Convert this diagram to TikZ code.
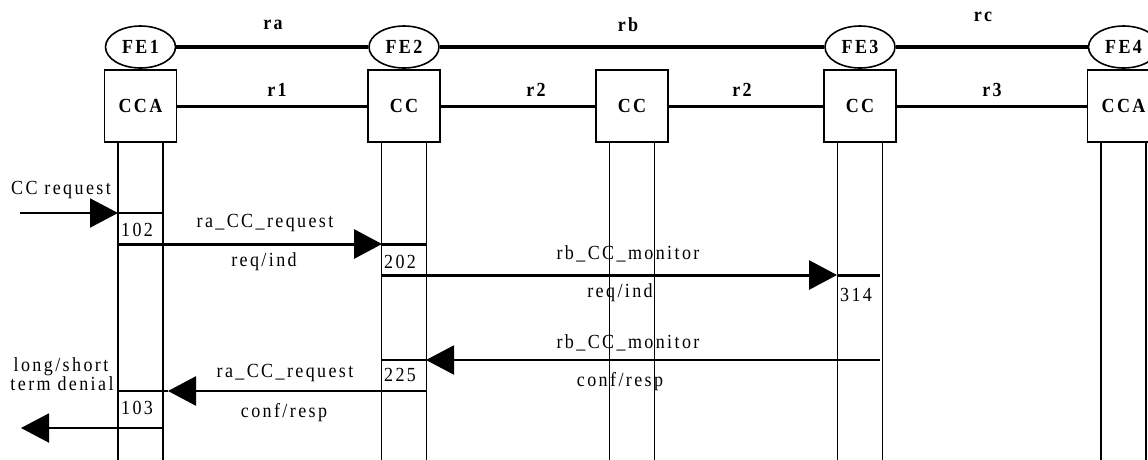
\documentclass[tikz,border=0pt]{standalone}
\usepackage{fontspec}
\setmainfont{Liberation Serif}[LetterSpace=12,FakeStretch=0.9]
\usetikzlibrary{arrows.meta,shapes.geometric}
\begin{document}
\begin{tikzpicture}[x=1pt,y=-1pt,
  txt/.style={font=\fontsize{20}{22}\selectfont, inner sep=0pt},
  btxt/.style={font=\fontsize{20}{22}\selectfont\bfseries, inner sep=0pt},
  box/.style={draw, line width=1.8pt, minimum width=72pt, minimum height=72pt, inner sep=0pt, font=\fontsize{20}{22}\selectfont\bfseries},
  fe/.style={draw, ellipse, line width=1.6pt, minimum width=70pt, minimum height=42pt, inner sep=0pt, font=\fontsize{20}{22}\selectfont\bfseries},
  link/.style={line width=3.5pt},
  rlink/.style={line width=3pt},
  life/.style={line width=1.6pt},
  cell/.style={line width=2pt},
  msg/.style={line width=3pt, -{Triangle[length=28pt,width=29pt]}},
  tmsg/.style={line width=2pt, -{Triangle[length=28pt,width=29pt]}},
]
\useasboundingbox (0,0) rectangle (1148,459);
\clip (0,0) rectangle (1148,459);

% functional entities
\node[fe] (fe1) at (140.5,47) {FE1};
\node[fe] (fe2) at (404,47) {FE2};
\node[fe] (fe3) at (860,47) {FE3};
\node[fe] (fe4) at (1123.5,47) {FE4};
\draw[link] (fe1.east) -- (fe2.west);
\draw[link] (fe2.east) -- (fe3.west);
\draw[link] (fe3.east) -- (fe4.west);
\node[btxt] (ra) at (273,25) {ra};
\node[btxt] (rb) at (628,25) {rb};
\node[btxt] (rc) at (983,17) {rc};

% boxes
\node[box] (b1) at (140.5,106) {\raisebox{-4pt}{CCA}};
\node[box] (b2) at (404,106) {\raisebox{-4pt}{CC}};
\node[box] (b3) at (632,106) {\raisebox{-5pt}{CC}};
\node[box] (b4) at (860,106) {\raisebox{-2pt}{CC}};
\node[box] (b5) at (1123.5,106) {\raisebox{-6pt}{CCA}};
\draw[rlink] (b1.east) -- (b2.west);
\draw[rlink] (b2.east) -- (b3.west);
\draw[rlink] (b3.east) -- (b4.west);
\draw[rlink] (b4.east) -- (b5.west);
\node[btxt] (r1) at (277,90) {r1};
\node[btxt] (r2a) at (536,90) {r2};
\node[btxt] (r2b) at (742,90) {r2};
\node[btxt] (r3) at (992,90) {r3};

% lifelines
\foreach \b in {b1,b2,b3,b4,b5}{
  \draw[life] ([xshift=-22.5pt]\b.south) -- ++(0,320);
  \draw[life] ([xshift=22.5pt]\b.south) -- ++(0,320);
}

% coordinates
\coordinate (in0) at (20,213);
\coordinate (a102) at (118,213);
\coordinate (b102) at (163,213);
\coordinate (m1s) at (118,244);
\coordinate (m1e) at (382,244);
\coordinate (m1c) at (426,244);
\coordinate (m2s) at (382,275);
\coordinate (m2e) at (837,275);
\coordinate (m2c) at (880,275);
\coordinate (m3s) at (880,360);
\coordinate (m3e) at (426,360);
\coordinate (m3c) at (382,360);
\coordinate (m4s) at (426,391);
\coordinate (m4e) at (168,391);
\coordinate (m4c) at (117,391);
\coordinate (m5s) at (163,428);
\coordinate (m5e) at (21,428);

% messages
\draw[tmsg] (in0) -- (a102);
\draw[cell] (a102) -- (b102);
\node[txt] (t0) at (61,190) {CC request};
\node[txt, anchor=west] (n102) at (121,230) {102};

\draw[msg] (m1s) -- (m1e);
\draw[msg, -] (m1e) -- (m1c);
\node[txt] (t1a) at (265,223) {ra\_CC\_request};
\node[txt] (t1b) at (264,262) {req/ind};
\node[txt, anchor=west] (n202) at (384,262) {202};

\draw[msg] (m2s) -- (m2e);
\draw[msg, -] (m2e) -- (m2c);
\node[txt] (t2a) at (628,254) {rb\_CC\_monitor};
\node[txt] (t2b) at (620,293) {req/ind};
\node[txt, anchor=west] (n314) at (840,295) {314};

\draw[tmsg] (m3s) -- (m3e);
\draw[cell] (m3e) -- (m3c);
\node[txt] (t3a) at (628,343) {rb\_CC\_monitor};
\node[txt] (t3b) at (620,382) {conf/resp};
\node[txt, anchor=west] (n225) at (384,375) {225};

\draw[msg, line width=2.7pt] (m4s) -- (m4e);
\draw[line width=2.7pt] (m4e) -- (m4c);
\node[txt] (t4a) at (285,373) {ra\_CC\_request};
\node[txt] (t4b) at (284,413) {conf/resp};
\node[txt, anchor=west] (n103) at (121,408) {103};

\draw[tmsg] (m5s) -- (m5e);
\node[txt] (t5a) at (61,367) {long/short};
\node[txt] (t5b) at (62,384) {term denial};
\end{tikzpicture}
\end{document}
